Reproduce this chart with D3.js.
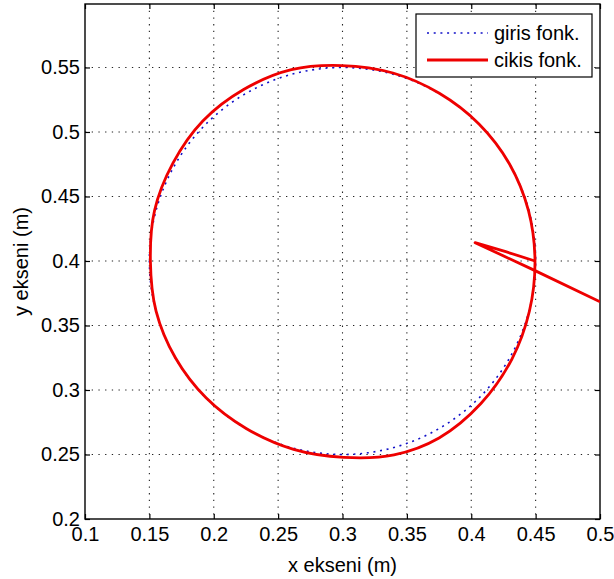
<!DOCTYPE html>
<html>
  <head>
    <meta charset="utf-8">
    <title>Chart</title>
    <style>
      body { margin: 0; background: #fff; }
      svg { display: block; }
      text { font-family: "Liberation Sans", Arial, sans-serif; font-size: 20px; fill: #000; }
    </style>
  </head>
  <body>
    <svg></svg>
    <script src="https://d3js.org/d3.v7.min.js"></script>
    <script>
      // tick values
      const xTicks = [0.1, 0.15, 0.2, 0.25, 0.3, 0.35, 0.4, 0.45, 0.5]
      const yTicks = [0.2, 0.25, 0.3, 0.35, 0.4, 0.45, 0.5, 0.55]

      // giris fonk. (reference circle)
      const girisX = [0.450, 0.4449, 0.4299, 0.4061, 0.375, 0.3388, 0.300, 0.2612, 0.225, 0.1939, 0.1701, 0.1551,
                      0.150, 0.1551, 0.1701, 0.1939, 0.225, 0.2612, 0.300, 0.3388, 0.375, 0.4061, 0.4299, 0.4449]
      const girisY = [0.400, 0.4388, 0.475, 0.5061, 0.5299, 0.5449, 0.550, 0.5449, 0.5299, 0.5061, 0.475, 0.4388,
                      0.400, 0.3612, 0.325, 0.2939, 0.2701, 0.2551, 0.250, 0.2551, 0.2701, 0.2939, 0.325, 0.3612]

      // cikis fonk. (output trajectory): approach from the right, then one loop
      const cikisX = [0.5, 0.4475, 0.403, 0.4268, 0.4495,
                      0.4445, 0.4297, 0.406, 0.3752, 0.3392, 0.2995, 0.2603, 0.2232, 0.1915, 0.1684, 0.154,
                      0.1508, 0.1552, 0.1702, 0.194, 0.2255, 0.262, 0.301, 0.34, 0.375, 0.4075, 0.4315, 0.4452]
      const cikisY = [0.3684, 0.3935, 0.4142, 0.4072, 0.400,
                      0.4388, 0.4752, 0.5062, 0.530, 0.5457, 0.5515, 0.5483, 0.5329, 0.5085, 0.476, 0.439,
                      0.400, 0.3612, 0.325, 0.294, 0.270, 0.254, 0.2478, 0.2497, 0.2628, 0.2895, 0.3238, 0.3612]

      const W = 614, H = 579
      const margin = {top: 4, right: 14, bottom: 60, left: 85}
      const width = W - margin.left - margin.right,
      height = H - margin.top - margin.bottom

      const x = d3.scaleLinear().domain([0.1, 0.5]).range([0, width])
      const y = d3.scaleLinear().domain([0.2, 0.5992]).range([height, 0])
      const fmt = d => String(+d.toFixed(2))

      const svg = d3.select("svg")
          .attr("width", W)
          .attr("height", H)
        .append("g")
          .attr("transform", "translate(" + margin.left + "," + margin.top + ")")

      svg.append("clipPath").attr("id", "clip")
        .append("rect").attr("width", width).attr("height", height)

      // grid
      svg.selectAll(".gx").data(xTicks.slice(1, -1)).enter().append("line")
        .attr("x1", d => x(d)).attr("x2", d => x(d))
        .attr("y1", 0).attr("y2", height)
        .attr("stroke", "#222").attr("stroke-width", 1.1).attr("stroke-dasharray", "1.3,5.4")
      svg.selectAll(".gy").data(yTicks.slice(1)).enter().append("line")
        .attr("x1", 0).attr("x2", width)
        .attr("y1", d => y(d)).attr("y2", d => y(d))
        .attr("stroke", "#222").attr("stroke-width", 1.1).attr("stroke-dasharray", "1.3,5.4")

      // axes, ticks inward on all four sides
      const tk = 5
      svg.append("g").attr("transform", "translate(0," + height + ")")
        .call(d3.axisBottom(x).tickValues(xTicks).tickFormat(fmt).tickSizeInner(-tk).tickSizeOuter(0).tickPadding(8))
      svg.append("g")
        .call(d3.axisTop(x).tickValues(xTicks).tickFormat("").tickSizeInner(-tk).tickSizeOuter(0))
      svg.append("g")
        .call(d3.axisLeft(y).tickValues(yTicks).tickFormat(fmt).tickSizeInner(-tk).tickSizeOuter(0).tickPadding(5))
      svg.append("g").attr("transform", "translate(" + width + ",0)")
        .call(d3.axisRight(y).tickValues(yTicks).tickFormat("").tickSizeInner(-tk).tickSizeOuter(0))
      svg.selectAll(".domain").remove()
      svg.selectAll(".tick line").attr("stroke", "#000").attr("stroke-width", 1.2)
      svg.selectAll(".tick text").attr("font-size", 20).attr("font-family", "Liberation Sans, Arial, sans-serif").attr("fill", "#000")

      svg.append("rect")
        .attr("width", width).attr("height", height)
        .attr("fill", "none").attr("stroke", "#000").attr("stroke-width", 1.4)

      // lines
      const giris = girisX.map((v, i) => [v, girisY[i]])
      const cikis = cikisX.map((v, i) => [v, cikisY[i]])
      const loop = d3.line().x(d => x(d[0])).y(d => y(d[1])).curve(d3.curveCatmullRomClosed.alpha(0.5))
      const straight = d3.line().x(d => x(d[0])).y(d => y(d[1]))

      const plot = svg.append("g").attr("clip-path", "url(#clip)")
      plot.append("path")
        .attr("d", loop(giris))
        .attr("fill", "none").attr("stroke", "#1010c8").attr("stroke-width", 1.6)
        .attr("stroke-dasharray", "2,4.7")
      plot.append("path")
        .attr("d", straight(cikis.slice(0, 5)))
        .attr("fill", "none").attr("stroke", "#ee0000").attr("stroke-width", 2.8)
        .attr("stroke-linejoin", "round")
      plot.append("path")
        .attr("d", loop(cikis.slice(4)))
        .attr("fill", "none").attr("stroke", "#ee0000").attr("stroke-width", 2.8)

      // axis labels
      svg.append("text")
        .attr("x", width / 2).attr("y", height + 53)
        .attr("text-anchor", "middle")
        .text("x ekseni (m)")
      svg.append("text")
        .attr("transform", "translate(" + (-57) + "," + (height / 2) + ") rotate(-90)")
        .attr("text-anchor", "middle")
        .text("y ekseni (m)")

      // legend
      const lg = svg.append("g").attr("transform", "translate(" + (416 - margin.left) + "," + (14 - margin.top) + ")")
      lg.append("rect").attr("width", 176).attr("height", 63)
        .attr("fill", "#fff").attr("stroke", "#000").attr("stroke-width", 1.2)
      lg.append("line").attr("x1", 11).attr("x2", 72).attr("y1", 19).attr("y2", 19)
        .attr("stroke", "#1010c8").attr("stroke-width", 1.6).attr("stroke-dasharray", "2,4.7")
      lg.append("line").attr("x1", 11).attr("x2", 72).attr("y1", 46).attr("y2", 46)
        .attr("stroke", "#ee0000").attr("stroke-width", 2.8)
      lg.append("text").attr("x", 78).attr("y", 26).text("giris fonk.")
      lg.append("text").attr("x", 78).attr("y", 53).text("cikis fonk.")
    </script>
  </body>
</html>
